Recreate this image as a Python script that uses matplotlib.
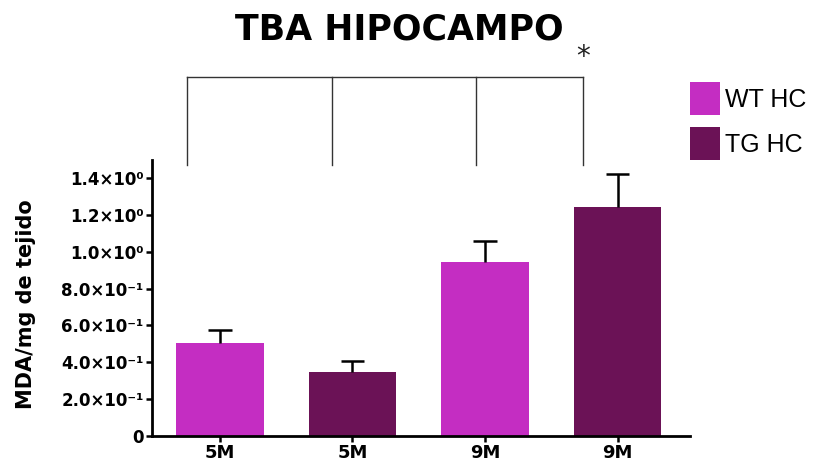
import matplotlib
matplotlib.use("Agg")
import matplotlib.pyplot as plt
from matplotlib.patches import Patch

categories = ["5M", "5M", "9M", "9M"]
groups = ["WT HC", "TG HC", "WT HC", "TG HC"]
values = [0.505, 0.347, 0.944, 1.243]
errors = [0.07, 0.06, 0.115, 0.177]
yticks = [0, 0.2, 0.4, 0.6, 0.8, 1.0, 1.2, 1.4]
ytick_labels = ["0", "2.0×10⁻¹", "4.0×10⁻¹", "6.0×10⁻¹", "8.0×10⁻¹",
                "1.0×10⁰", "1.2×10⁰", "1.4×10⁰"]
legend_labels = ["WT HC", "TG HC"]
colors = {"WT HC": "#C42DC2", "TG HC": "#6B1256"}

W, H = 815, 470
fig = plt.figure(figsize=(W / 100, H / 100), dpi=100)
ax = fig.add_axes([152 / W, 34 / H, 538 / W, (436 - 159.6) / H])

x = list(range(len(values)))
bar_colors = [colors[g] for g in groups]
ax.bar(x, values, width=0.66, color=bar_colors, edgecolor="none", zorder=2)
tops = [v + e for v, e in zip(values, errors)]
cap = 0.09
ax.vlines(x, values, tops, color="black", lw=1.8, zorder=3)
ax.hlines(tops, [xi - cap for xi in x], [xi + cap for xi in x],
          color="black", lw=1.8, zorder=3)

ax.set_xlim(-0.513, 3.547)
ax.set_ylim(0, 1.5)
ax.set_xticks(x)
ax.set_xticklabels(categories, fontsize=13, fontweight="bold")
ax.set_yticks(yticks)
ax.set_yticklabels(ytick_labels, fontsize=12, fontweight="bold")
ax.spines["top"].set_visible(False)
ax.spines["right"].set_visible(False)
ax.spines["left"].set_linewidth(2)
ax.spines["bottom"].set_linewidth(2)
ax.tick_params(axis="both", width=1.8, length=4, direction="out", pad=2)
ax.set_ylabel("MDA/mg de tejido", fontsize=15, fontweight="bold")
ax.yaxis.set_label_coords(-(152 - 36) / 538, 0.478)

# significance bracket (figure coordinates via pixels)
def px(xp, yp):
    return xp / W, 1 - yp / H

top_y = 77
bot_y = 165
xs = [187, 332, 476, 583]
fig.add_artist(plt.Line2D([px(xs[0], 0)[0], px(xs[-1], 0)[0]],
                          [px(0, top_y)[1], px(0, top_y)[1]],
                          color="#333333", lw=1.0))
for xv in xs:
    fig.add_artist(plt.Line2D([px(xv, 0)[0], px(xv, 0)[0]],
                              [px(0, top_y)[1], px(0, bot_y)[1]],
                              color="#333333", lw=1.0))
fig.text(*px(583, 57), "*", fontsize=20, ha="center", va="center", color="#222222")

fig.text(*px(399, 30), "TBA HIPOCAMPO", fontsize=25, fontweight="bold",
         ha="center", va="center")

handles = [Patch(facecolor=colors[g], edgecolor="none") for g in legend_labels]
fig.legend(handles, legend_labels, loc="upper left",
           bbox_to_anchor=(690 / W, 1 - 82 / H), frameon=False,
           prop={"family": "Liberation Sans", "size": 18},
           borderpad=0, borderaxespad=0,
           handlelength=1.2, handleheight=1.65, handletextpad=0.2,
           labelspacing=0.48)

fig.savefig("out.png", dpi=100)
